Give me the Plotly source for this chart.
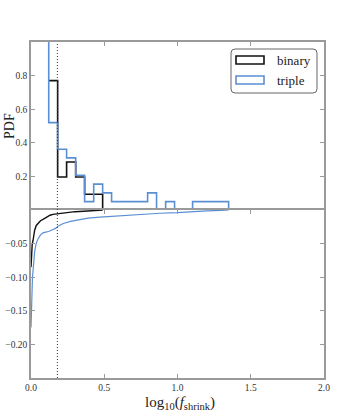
import plotly.graph_objects as go
from plotly.subplots import make_subplots

# ── Data ──────────────────────────────────────────────────────────────────────
BIN_EDGES = [0.121, 0.182, 0.243, 0.305, 0.366, 0.428, 0.489, 0.550, 0.612,
             0.673, 0.735, 0.796, 0.857, 0.919, 0.980, 1.042, 1.103, 1.164,
             1.226, 1.287, 1.349]
BINARY_PDF = [0.77, 0.196, 0.286, 0.196, 0.094, 0.094]
TRIPLE_PDF = [0.52, 0.362, 0.31, 0.206, 0.05, 0.154, 0.102, 0.05, 0.05, 0.05,
              0.05, 0.102, 0.0, 0.05, 0.0, 0.0, 0.05, 0.05, 0.05, 0.05]
TRIPLE_SPIKE = 1.2          # first triple bin runs off the top of the axis

BINARY_CUM_X = [0.0, 0.003, 0.008, 0.014, 0.025, 0.036, 0.048, 0.065, 0.082,
                0.10, 0.116, 0.13, 0.15, 0.17, 0.184, 0.24, 0.30, 0.36, 0.42, 0.49]
BINARY_CUM_Y = [-0.085, -0.065, -0.052, -0.045, -0.030, -0.023, -0.0195, -0.016,
                -0.014, -0.012, -0.009, -0.0078, -0.0065, -0.006, -0.0055,
                -0.0036, -0.0025, -0.0018, -0.0012, 0.0]

TRIPLE_CUM_X = [0.0, 0.003, 0.006, 0.010, 0.016, 0.025, 0.035, 0.048, 0.065,
                0.082, 0.10, 0.12, 0.15, 0.17, 0.184, 0.22, 0.27, 0.32, 0.39,
                0.47, 0.54, 0.65, 0.77, 0.88, 1.0, 1.11, 1.2, 1.30, 1.35]
TRIPLE_CUM_Y = [-0.175, -0.14, -0.115, -0.10, -0.085, -0.062, -0.050, -0.043,
                -0.037, -0.034, -0.033, -0.032, -0.029, -0.027, -0.024, -0.020,
                -0.017, -0.0145, -0.012, -0.0105, -0.0095, -0.008, -0.0065,
                -0.0048, -0.004, -0.002, -0.0012, -0.0005, 0.0]

THRESHOLD = 0.18

TOP_TICKS = [0.2, 0.4, 0.6, 0.8]
BOTTOM_TICKS = [-0.05, -0.10, -0.15, -0.20]
X_TICKS = [0.0, 0.5, 1.0, 1.5, 2.0]

LEGEND_LABELS = ["binary", "triple"]

# ── Style ─────────────────────────────────────────────────────────────────────
BLACK = "#111111"
BLUE = "#5B8FD3"
FRAME = "#9A9A9A"
TEXT = "#222222"
FONT = "Liberation Serif, DejaVu Serif, serif"

W, H = 362, 420
L, R, T, B = 31, 38, 42, 42
PW, PH = W - L - R, H - T - B


def step_path(edges, heights, start_y):
    xs, ys = [edges[0]], [start_y]
    for i, h in enumerate(heights):
        xs += [edges[i], edges[i + 1]]
        ys += [h, h]
    xs.append(edges[len(heights)])
    ys.append(0.0)
    return xs, ys


def px_x(x):
    return (x - L) / PW


def px_y(y):
    return (H - B - y) / PH


fig = make_subplots(rows=2, cols=1, shared_xaxes=True, vertical_spacing=0)

bx, by = step_path(BIN_EDGES, BINARY_PDF, BINARY_PDF[0])
tx, ty = step_path(BIN_EDGES, TRIPLE_PDF, TRIPLE_SPIKE)

fig.add_trace(go.Scatter(x=bx, y=by, mode="lines", line=dict(color=BLACK, width=1.6),
                         showlegend=False, hoverinfo="skip"), row=1, col=1)
fig.add_trace(go.Scatter(x=tx, y=ty, mode="lines", line=dict(color=BLUE, width=1.6),
                         showlegend=False, hoverinfo="skip"), row=1, col=1)

fig.add_trace(go.Scatter(x=BINARY_CUM_X, y=BINARY_CUM_Y, mode="lines",
                         line=dict(color=BLACK, width=1.4), showlegend=False),
              row=2, col=1)
fig.add_trace(go.Scatter(x=TRIPLE_CUM_X, y=TRIPLE_CUM_Y, mode="lines",
                         line=dict(color=BLUE, width=1.2), showlegend=False),
              row=2, col=1)

# dotted threshold line through both panels
for r in (1, 2):
    fig.add_vline(x=THRESHOLD, line=dict(color="#333333", width=1, dash="1px,2px"),
                  row=r, col=1)

axis_common = dict(showline=True, linecolor=FRAME, linewidth=1.5,
                   ticks="inside", ticklen=4, tickcolor=FRAME, showgrid=False,
                   zeroline=False, automargin=False,
                   tickfont=dict(family=FONT, size=9.5, color="#333333"))

fig.update_xaxes(range=[0, 2], tickvals=X_TICKS, **axis_common)
fig.update_xaxes(showticklabels=False, side="top", mirror=False, row=1, col=1)
fig.update_xaxes(tickformat=".1f", mirror="ticks", row=2, col=1)
fig.update_yaxes(range=[0, 1.0], tickvals=TOP_TICKS, tickformat=".1f", row=1, col=1,
                 mirror="ticks", **axis_common)
fig.update_yaxes(range=[-0.25, 0], tickvals=BOTTOM_TICKS, tickformat=".2f",
                 mirror="ticks", row=2, col=1, **axis_common)

# axis titles
fig.add_annotation(x=px_x(9), y=px_y(126), xref="paper", yref="paper",
                   xanchor="center", yanchor="middle",
                   text="PDF", textangle=-90, showarrow=False,
                   font=dict(family=FONT, size=14, color=TEXT))
fig.add_annotation(x=px_x(180), y=px_y(403), xref="paper", yref="paper",
                   xanchor="center", yanchor="middle",
                   text="log<sub>10</sub>(<i>f</i><sub>shrink</sub>)", showarrow=False,
                   font=dict(family=FONT, size=15, color=TEXT))

# ── Legend drawn by hand (outlined patches, rounded frame) ───────────────────
x0, x1, y0, y1 = px_x(231), px_x(317), px_y(49), px_y(93)
rx, ry = 4 / PW, 4 / PH
frame_path = (f"M{x0 + rx},{y0} L{x1 - rx},{y0} Q{x1},{y0} {x1},{y0 - ry} "
              f"L{x1},{y1 + ry} Q{x1},{y1} {x1 - rx},{y1} L{x0 + rx},{y1} "
              f"Q{x0},{y1} {x0},{y1 + ry} L{x0},{y0 - ry} Q{x0},{y0} {x0 + rx},{y0} Z")
fig.add_shape(type="path", path=frame_path, xref="paper", yref="paper",
              line=dict(color="#666666", width=1), fillcolor="white", layer="above")
for i, (label, color) in enumerate(zip(LEGEND_LABELS, [BLACK, BLUE])):
    cy = 60 + i * 20
    fig.add_shape(type="rect", xref="paper", yref="paper",
                  x0=px_x(236), x1=px_x(264), y0=px_y(cy - 4), y1=px_y(cy + 4),
                  line=dict(color=color, width=1.6), fillcolor="white", layer="above")
    fig.add_annotation(x=px_x(275), y=px_y(cy), xref="paper", yref="paper",
                       text=label, showarrow=False, xanchor="left", yanchor="middle",
                       font=dict(family=FONT, size=13, color=TEXT))

fig.update_layout(
    width=W, height=H,
    margin=dict(l=L, r=R, t=T, b=B),
    paper_bgcolor="white", plot_bgcolor="white",
    font=dict(family=FONT),
    showlegend=False,
)

# drop the default body margin so the figure fills the window exactly
fig.write_html("out.html", config={"displayModeBar": False},
               post_script="document.body.style.margin='0';")
